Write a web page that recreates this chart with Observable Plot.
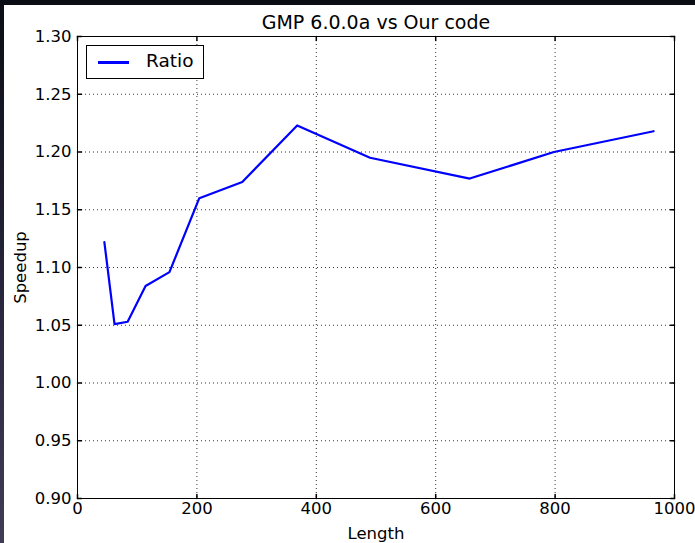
<!DOCTYPE html>
<html>
<head>
<meta charset="utf-8">
<script src="https://cdn.jsdelivr.net/npm/d3@7"></script>
<script src="https://cdn.jsdelivr.net/npm/@observablehq/plot@0.6"></script>
<style>
  html, body { margin: 0; padding: 0; }
  body { width: 695px; height: 543px; position: relative; overflow: hidden;
         background: linear-gradient(to bottom, #0b0d14 0%, #25243a 50%, #403c56 100%); }
  #topbar { position: absolute; left: 0; top: 0; width: 695px; height: 5px; background: #0b0d14; }
  #chart { position: absolute; left: 4px; top: 5px; width: 691px; height: 538px; background: #fff; }
  #chart svg { display: block; }
  #legend { position: absolute; left: 86px; top: 45px; width: 116px; height: 32px;
            border: 1px solid #000; background: #fff; font-family: "DejaVu Sans", sans-serif; font-size: 18.5px; }
  #legend .sw { position: absolute; left: 11px; top: 15px; width: 31px; height: 2.5px; background: #0000ff; }
  #legend .lb { position: absolute; left: 59px; top: 4px; color: #000; line-height: 22px; }
</style>
</head>
<body>
<div id="topbar"></div>
<div id="chart"></div>
<div id="legend"><div class="sw"></div><div class="lb">Ratio</div></div>
<script>
const lengths = [45, 62, 84, 114, 154, 204, 276, 368, 490, 657, 798, 965];
const ratios  = [1.122, 1.051, 1.053, 1.084, 1.096, 1.160, 1.174, 1.223, 1.195, 1.177, 1.200, 1.218];
const xTicks = [0, 200, 400, 600, 800, 1000];
const yTicks = [0.90, 0.95, 1.00, 1.05, 1.10, 1.15, 1.20, 1.25, 1.30];
const title = "GMP 6.0.0a vs Our code";

const data = lengths.map((x, i) => ({x, y: ratios[i]}));
const tickShape = { draw(ctx, l) { ctx.moveTo(0, 0); ctx.lineTo(0, -l); } };

const chart = Plot.plot({
  width: 691,
  height: 538,
  marginLeft: 73,
  marginRight: 21,
  marginTop: 31,
  marginBottom: 45,
  style: { fontFamily: "DejaVu Sans, sans-serif", fontSize: "16px", color: "#000", background: "#fff" },
  x: { domain: [0, 1000] },
  y: { domain: [0.9, 1.3] },
  marks: [
    Plot.gridX(xTicks, { stroke: "#000", strokeOpacity: 1, strokeDasharray: "1,3", strokeWidth: 0.8 }),
    Plot.gridY(yTicks, { stroke: "#000", strokeOpacity: 1, strokeDasharray: "1,3", strokeWidth: 0.8 }),
    // inward ticks on all four sides
    Plot.vector(xTicks, { x: d => d, frameAnchor: "bottom", length: 4, rotate: 0, anchor: "start", shape: tickShape, stroke: "#000" }),
    Plot.vector(xTicks, { x: d => d, frameAnchor: "top", length: 4, rotate: 180, anchor: "start", shape: tickShape, stroke: "#000" }),
    Plot.vector(yTicks, { y: d => d, frameAnchor: "left", length: 4, rotate: 90, anchor: "start", shape: tickShape, stroke: "#000" }),
    Plot.vector(yTicks, { y: d => d, frameAnchor: "right", length: 4, rotate: -90, anchor: "start", shape: tickShape, stroke: "#000" }),
    Plot.axisX(xTicks, { tickSize: 0, tickPadding: 4, tickFormat: d => String(d), label: "Length", labelAnchor: "center", labelArrow: "none", labelOffset: 40, fontSize: 16.5 }),
    Plot.axisY(yTicks, { tickSize: 0, tickPadding: 6, tickFormat: d => d.toFixed(2), label: "Speedup", labelAnchor: "center", labelArrow: "none", labelOffset: 63, fontSize: 16.5 }),
    Plot.line(data, { x: "x", y: "y", stroke: "#0000ff", strokeWidth: 2.2 }),
    Plot.frame({ stroke: "#000", strokeWidth: 1 }),
    Plot.text([title], { frameAnchor: "top", lineAnchor: "middle", dy: -14, fontSize: 19, fill: "#000" })
  ]
});
document.getElementById("chart").appendChild(chart);
</script>
</body>
</html>
